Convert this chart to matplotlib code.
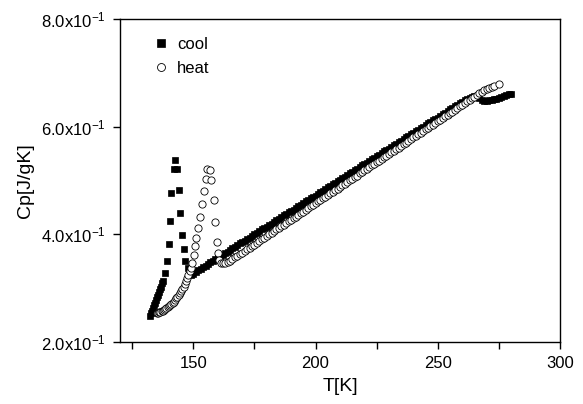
import matplotlib
matplotlib.use("Agg")
import matplotlib.pyplot as plt
from matplotlib.ticker import FuncFormatter, MultipleLocator

plt.rcParams['font.family'] = ['Liberation Sans', 'DejaVu Sans']
plt.rcParams['mathtext.default'] = 'regular'

# cooling run: temperature [K] and Cp [J/gK]
cool_T = [132.4, 132.8, 133.2, 133.6, 134.0, 134.4, 134.8, 135.2, 135.6, 136.0,
          136.4, 136.8, 137.2, 137.6,
          138.5, 139.2, 139.9, 140.5, 140.9, 141.9, 142.6, 143.3, 144.0, 144.7,
          145.3, 146.0, 146.7, 147.8,
          149, 150, 151, 152, 153, 154, 155, 156, 157, 158, 159, 160, 161, 162,
          163, 164, 165, 166, 167, 168, 169, 170, 171, 172, 173, 174, 175, 176,
          177, 178, 179, 180, 181, 182, 183, 184, 185, 186, 187, 188, 189, 190,
          191, 192, 193, 194, 195, 196, 197, 198, 199, 200, 201, 202, 203, 204,
          205, 206, 207, 208, 209, 210, 211, 212, 213, 214, 215, 216, 217, 218,
          219, 220, 221, 222, 223, 224, 225, 226, 227, 228, 229, 230, 231, 232,
          233, 234, 235, 236, 237, 238, 239, 240, 241, 242, 243, 244, 245, 246,
          247, 248, 249, 250, 251, 252, 253, 254, 255, 256, 257, 258, 259, 260,
          261, 262, 263, 264, 265, 266, 267, 268, 269, 270, 271, 272, 273, 274,
          275, 276, 277, 278, 279, 280]
cool_Cp = [0.248, 0.253, 0.258, 0.263, 0.268, 0.273, 0.278, 0.283, 0.288, 0.293,
           0.298, 0.303, 0.309, 0.314,
           0.329, 0.351, 0.382, 0.425, 0.476, 0.521, 0.538, 0.521, 0.482, 0.439,
           0.399, 0.372, 0.351, 0.337,
           0.325, 0.327, 0.330, 0.333, 0.336, 0.339, 0.342, 0.345, 0.348, 0.351,
           0.354, 0.356, 0.359, 0.362, 0.365, 0.368, 0.371, 0.374, 0.377, 0.380,
           0.383, 0.385, 0.388, 0.391, 0.394, 0.397, 0.400, 0.403, 0.406, 0.409,
           0.412, 0.414, 0.417, 0.420, 0.423, 0.426, 0.429, 0.432, 0.435, 0.438,
           0.441, 0.443, 0.446, 0.449, 0.452, 0.455, 0.458, 0.461, 0.464, 0.467,
           0.470, 0.472, 0.475, 0.478, 0.481, 0.484, 0.487, 0.490, 0.493, 0.496,
           0.499, 0.501, 0.504, 0.507, 0.510, 0.513, 0.516, 0.519, 0.522, 0.525,
           0.528, 0.530, 0.533, 0.536, 0.539, 0.542, 0.545, 0.548, 0.551, 0.554,
           0.557, 0.559, 0.562, 0.565, 0.568, 0.571, 0.574, 0.577, 0.580, 0.583,
           0.586, 0.588, 0.591, 0.594, 0.597, 0.600, 0.603, 0.606, 0.609, 0.612,
           0.615, 0.617, 0.620, 0.623, 0.626, 0.629, 0.632, 0.635, 0.638, 0.641,
           0.644, 0.646, 0.649, 0.652, 0.654, 0.656, 0.657, 0.656, 0.653, 0.650,
           0.648, 0.648, 0.649, 0.650, 0.651, 0.652, 0.654, 0.655, 0.657, 0.658,
           0.660, 0.661]

# heating run
heat_T = [135.0, 135.5, 136.0, 136.5, 137.0, 137.5, 138.0, 138.5, 139.0, 139.5,
          140.0, 140.5, 141.0, 141.5, 142.0, 142.5, 143.0, 143.5, 144.0, 144.5,
          145.0, 145.5, 146.0, 146.5, 147.0, 147.5, 148.0, 148.5, 149.0, 149.5,
          150.1, 150.7, 151.3, 152.0, 152.8, 153.6, 154.3, 155.0, 155.7, 156.9,
          157.3, 158.3, 159.0, 159.7, 160.1, 160.6, 161.2,
          162, 163, 164, 165, 166, 167, 168, 169, 170, 171, 172, 173, 174, 175,
          176, 177, 178, 179, 180, 181, 182, 183, 184, 185, 186, 187, 188, 189,
          190, 191, 192, 193, 194, 195, 196, 197, 198, 199, 200, 201, 202, 203,
          204, 205, 206, 207, 208, 209, 210, 211, 212, 213, 214, 215, 216, 217,
          218, 219, 220, 221, 222, 223, 224, 225, 226, 227, 228, 229, 230, 231,
          232, 233, 234, 235, 236, 237, 238, 239, 240, 241, 242, 243, 244, 245,
          246, 247, 248, 249, 250, 251, 252, 253, 254, 255, 256, 257, 258, 259,
          260, 261, 262, 263, 264, 265, 266, 267, 268, 269, 270, 271, 272, 273,
          275]
heat_Cp = [0.254, 0.254, 0.255, 0.256, 0.257, 0.258, 0.259, 0.261, 0.263, 0.265,
           0.267, 0.269, 0.271, 0.273, 0.275, 0.278, 0.281, 0.284, 0.287, 0.291,
           0.295, 0.299, 0.303, 0.308, 0.313, 0.319, 0.325, 0.331, 0.338, 0.346,
           0.362, 0.378, 0.394, 0.411, 0.433, 0.456, 0.480, 0.503, 0.522, 0.520,
           0.501, 0.464, 0.423, 0.386, 0.365, 0.352, 0.346,
           0.346, 0.347, 0.349, 0.351, 0.354, 0.357, 0.360, 0.363, 0.366, 0.369,
           0.372, 0.375, 0.378, 0.381, 0.384, 0.387, 0.391, 0.394, 0.397, 0.400,
           0.403, 0.406, 0.409, 0.412, 0.415, 0.418, 0.421, 0.424, 0.427, 0.430,
           0.433, 0.436, 0.439, 0.442, 0.445, 0.448, 0.452, 0.455, 0.458, 0.461,
           0.464, 0.467, 0.470, 0.473, 0.476, 0.479, 0.482, 0.485, 0.488, 0.491,
           0.494, 0.497, 0.500, 0.503, 0.506, 0.509, 0.513, 0.516, 0.519, 0.522,
           0.525, 0.528, 0.531, 0.534, 0.537, 0.540, 0.543, 0.546, 0.549, 0.552,
           0.555, 0.558, 0.561, 0.564, 0.567, 0.570, 0.574, 0.577, 0.580, 0.583,
           0.586, 0.589, 0.592, 0.595, 0.598, 0.601, 0.604, 0.607, 0.610, 0.613,
           0.616, 0.619, 0.622, 0.625, 0.628, 0.631, 0.635, 0.638, 0.641, 0.644,
           0.647, 0.650, 0.653, 0.656, 0.659, 0.662, 0.665, 0.668, 0.670, 0.672,
           0.674, 0.676, 0.679]

fig = plt.figure(figsize=(5.83, 4.04), dpi=100)
ax = fig.add_axes([0.2058, 0.1535, 0.7547, 0.7995])

ax.plot(cool_T, cool_Cp, ls='none', marker='s', ms=5.0, mfc='black',
        mec='black', mew=0.5, label='cool')
ax.plot(heat_T, heat_Cp, ls='none', marker='o', ms=5.2, mfc='white',
        mec='black', mew=0.6, label='heat')

ax.set_xlim(120, 300)
ax.set_ylim(0.2, 0.8)
ax.xaxis.set_major_locator(MultipleLocator(50))
ax.xaxis.set_minor_locator(MultipleLocator(25))
ax.set_yticks([0.2, 0.4, 0.6, 0.8])
ax.yaxis.set_major_formatter(FuncFormatter(lambda v, p: "%.1fx10$^{-1}$" % (v * 10)))

ax.tick_params(which='both', direction='out', length=5, width=1, labelsize=12,
               top=False, right=False, pad=5)
for s in ax.spines.values():
    s.set_linewidth(1)

ax.set_xlabel('T[K]', fontsize=14, labelpad=5)
ax.set_ylabel('Cp[J/gK]', fontsize=14, labelpad=5)

ax.legend(loc='upper left', bbox_to_anchor=(0.06, 0.965), frameon=False,
          fontsize=12, handlelength=1.0, handletextpad=0.45, labelspacing=0.55,
          numpoints=1, markerscale=1.1, borderaxespad=0)

fig.savefig('out.png', dpi=100)
